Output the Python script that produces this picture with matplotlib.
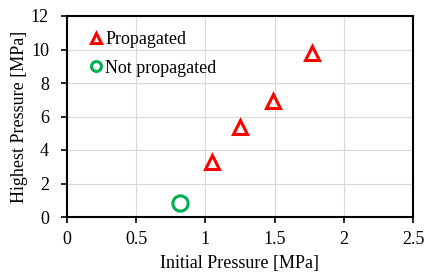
import matplotlib
matplotlib.use('Agg')
import matplotlib.pyplot as plt

plt.rcParams['font.family'] = ['Liberation Serif', 'DejaVu Serif']
plt.rcParams['font.size'] = 13

# data
prop_x = [1.05, 1.25, 1.49, 1.77]
prop_y = [3.3, 5.35, 6.95, 9.8]
notprop_x = [0.82]
notprop_y = [0.82]

fig = plt.figure(figsize=(4.24, 2.77), dpi=100)
ax = fig.add_axes([67/424, 60/277, 346/424, 201/277])

ax.plot(prop_x, prop_y, linestyle='none', marker='^', markersize=10,
        markerfacecolor='none', markeredgecolor='#ff0000', markeredgewidth=2.2,
        label='Propagated')
ax.plot(notprop_x, notprop_y, linestyle='none', marker='o', markersize=11,
        markerfacecolor='none', markeredgecolor='#00b050', markeredgewidth=2.2,
        label='Not propagated')

ax.set_xlim(0, 2.5)
ax.set_ylim(0, 12)
ax.set_xticks([0, 0.5, 1, 1.5, 2, 2.5])
ax.set_xticklabels(['0', '0.5', '1', '1.5', '2', '2.5'])
ax.set_yticks([0, 2, 4, 6, 8, 10, 12])
ax.grid(True, color='#d9d9d9', linewidth=0.8)
ax.set_axisbelow(True)
for s in ax.spines.values():
    s.set_linewidth(1.5)
    s.set_color('black')
ax.tick_params(direction='out', length=4, width=1.2, colors='black',
               labelsize=13)
ax.tick_params(axis='x', pad=6)
ax.tick_params(axis='y', pad=9)

ax.set_xlabel('Initial Pressure [MPa]', labelpad=5)
ax.set_ylabel('Highest Pressure [MPa]', labelpad=2)

leg = ax.legend(loc='upper left', frameon=False, handletextpad=0.0,
                handlelength=1.0, markerscale=0.65, fontsize=13,
                borderaxespad=0.4, labelspacing=0.62,
                bbox_to_anchor=(0.017, 0.995))

plt.savefig('out.png', dpi=100)
